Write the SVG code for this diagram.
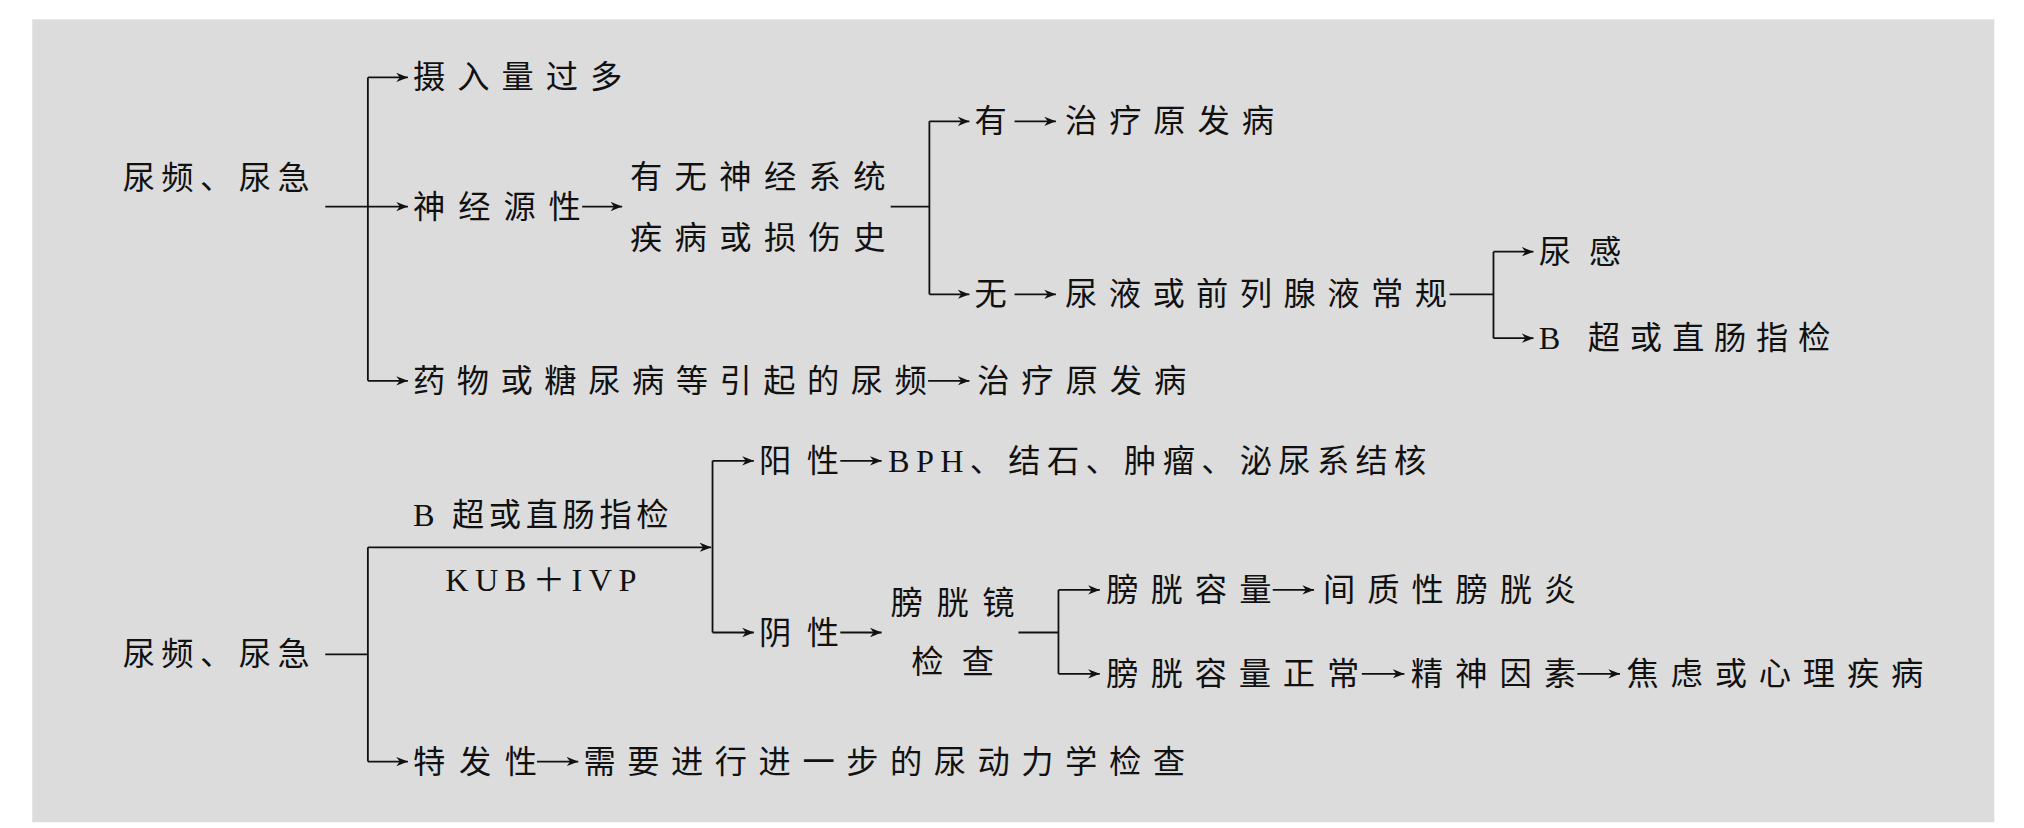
<svg xmlns="http://www.w3.org/2000/svg" width="2024" height="828" viewBox="0 0 2024 828">
<style>
text{font-family:"Liberation Serif","Noto Sans CJK SC",serif;font-size:25px;fill:#111;dominant-baseline:central}
.c line,.c path{stroke:#111;stroke-width:1.4;fill:none}
</style>
<defs><marker id="a" viewBox="0 0 10 10" refX="10" refY="5" markerWidth="9" markerHeight="9" markerUnits="userSpaceOnUse" orient="auto"><path d="M0,1 L10,5 L0,9 L3,5 Z" fill="#111"/></marker></defs>
<rect width="2024" height="828" fill="#fff"/>
<g transform="scale(1.29082)">
<rect x="25" y="15" width="1520" height="622" fill="#dcdcdc"/>
<g class="c" id="connectors">
<path d="M252,160H285"/><path d="M285,60V295"/>
<line x1="285" y1="60" x2="316" y2="60" marker-end="url(#a)"/>
<line x1="285" y1="160" x2="316" y2="160" marker-end="url(#a)"/>
<line x1="285" y1="295" x2="316" y2="295" marker-end="url(#a)"/>
<line x1="451" y1="160" x2="482" y2="160" marker-end="url(#a)"/>
<path d="M690,160H720M720,94V228"/>
<line x1="720" y1="94" x2="751" y2="94" marker-end="url(#a)"/>
<line x1="720" y1="228" x2="751" y2="228" marker-end="url(#a)"/>
<line x1="786" y1="94" x2="818" y2="94" marker-end="url(#a)"/>
<line x1="786" y1="228" x2="818" y2="228" marker-end="url(#a)"/>
<path d="M1123,228H1157M1157,195V262"/>
<line x1="1157" y1="195" x2="1188" y2="195" marker-end="url(#a)"/>
<line x1="1157" y1="262" x2="1188" y2="262" marker-end="url(#a)"/>
<line x1="719" y1="295" x2="751" y2="295" marker-end="url(#a)"/>
<path d="M252,507H285M285,424V590"/>
<line x1="285" y1="424" x2="551" y2="424" marker-end="url(#a)"/>
<line x1="285" y1="590" x2="316" y2="590" marker-end="url(#a)"/>
<line x1="416" y1="590" x2="448" y2="590" marker-end="url(#a)"/>
<path d="M552,357V490"/>
<line x1="552" y1="357" x2="584" y2="357" marker-end="url(#a)"/>
<line x1="552" y1="490" x2="584" y2="490" marker-end="url(#a)"/>
<line x1="651" y1="357" x2="683" y2="357" marker-end="url(#a)"/>
<line x1="651" y1="490" x2="683" y2="490" marker-end="url(#a)"/>
<path d="M789,490H820M820,457V522"/>
<line x1="820" y1="457" x2="852" y2="457" marker-end="url(#a)"/>
<line x1="820" y1="522" x2="852" y2="522" marker-end="url(#a)"/>
<line x1="986" y1="457" x2="1018" y2="457" marker-end="url(#a)"/>
<line x1="1055" y1="522" x2="1088" y2="522" marker-end="url(#a)"/>
<line x1="1222" y1="522" x2="1255" y2="522" marker-end="url(#a)"/>
</g>
<g id="n1"><text x="95" y="138" textLength="145" lengthAdjust="spacing">尿频、尿急</text></g>
<g id="n2"><text x="320" y="60" textLength="162" lengthAdjust="spacing">摄入量过多</text></g>
<g id="n3"><text x="320" y="160" textLength="130" lengthAdjust="spacing">神经源性</text></g>
<g id="n4"><text x="488" y="137" textLength="198" lengthAdjust="spacing">有无神经系统</text><text x="488" y="184" textLength="198" lengthAdjust="spacing">疾病或损伤史</text></g>
<g id="n5"><text x="755" y="94">有</text></g>
<g id="n6"><text x="825" y="94" textLength="162" lengthAdjust="spacing">治疗原发病</text></g>
<g id="n7"><text x="755" y="228">无</text></g>
<g id="n8"><text x="825" y="228" textLength="296" lengthAdjust="spacing">尿液或前列腺液常规</text></g>
<g id="n9"><text x="1192" y="195" textLength="64" lengthAdjust="spacing">尿感</text></g>
<g id="n10"><text x="1192" y="262" textLength="226" lengthAdjust="spacing">B 超或直肠指检</text></g>
<g id="n11"><text x="320" y="295" textLength="398" lengthAdjust="spacing">药物或糖尿病等引起的尿频</text></g>
<g id="n12"><text x="757" y="295" textLength="162" lengthAdjust="spacing">治疗原发病</text></g>
<g id="n13"><text x="95" y="507" textLength="145" lengthAdjust="spacing">尿频、尿急</text></g>
<g id="n14"><text x="320" y="399" textLength="198" lengthAdjust="spacing">B 超或直肠指检</text><text x="345" y="449" textLength="148" lengthAdjust="spacing">KUB＋IVP</text></g>
<g id="n15"><text x="588" y="357" textLength="62" lengthAdjust="spacing">阳性</text></g>
<g id="n16"><text x="688" y="357" textLength="417" lengthAdjust="spacing">BPH、结石、肿瘤、泌尿系结核</text></g>
<g id="n17"><text x="588" y="490" textLength="62" lengthAdjust="spacing">阴性</text></g>
<g id="n18"><text x="690" y="467" textLength="96" lengthAdjust="spacing">膀胱镜</text><text x="706" y="513" textLength="64" lengthAdjust="spacing">检查</text></g>
<g id="n19"><text x="857" y="457" textLength="128" lengthAdjust="spacing">膀胱容量</text></g>
<g id="n20"><text x="1025" y="457" textLength="196" lengthAdjust="spacing">间质性膀胱炎</text></g>
<g id="n21"><text x="857" y="522" textLength="196" lengthAdjust="spacing">膀胱容量正常</text></g>
<g id="n22"><text x="1093" y="522" textLength="128" lengthAdjust="spacing">精神因素</text></g>
<g id="n23"><text x="1260" y="522" textLength="230" lengthAdjust="spacing">焦虑或心理疾病</text></g>
<g id="n24"><text x="320" y="590" textLength="96" lengthAdjust="spacing">特发性</text></g>
<g id="n25"><text x="452" y="590" textLength="466" lengthAdjust="spacing">需要进行进一步的尿动力学检查</text></g>
</g>
</svg>
